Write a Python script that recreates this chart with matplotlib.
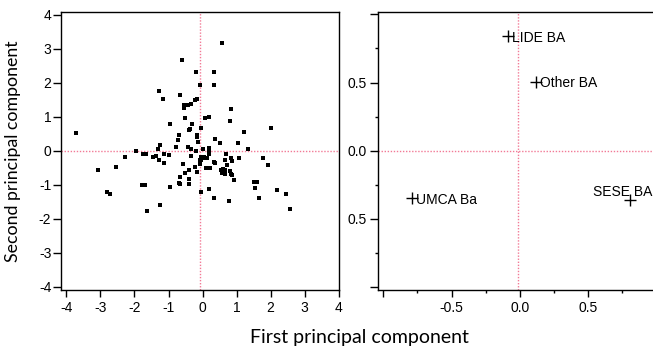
import matplotlib
matplotlib.use("Agg")
import matplotlib.pyplot as plt
from matplotlib.ticker import FixedLocator, FixedFormatter

plt.rcParams['axes.unicode_minus'] = False
plt.rcParams['font.family'] = ['Liberation Sans', 'DejaVu Sans']

# ---- left panel: scores ----
pc1 = [-3.73, -0.61, -0.19, -0.08, -1.27, -1.15, -0.65, -0.16, -0.21, -0.54,
       -0.54, -0.42, -0.34, -0.51, 0.08, 0.18, -0.96, -0.31, -0.36, -0.39,
       -0.69, -0.04, -0.15, -0.15, -0.73, -0.12, -1.24, -0.77, -1.32, -0.44,
       -0.34, -0.19, 0.00, 0.18, -1.97, -1.75, -1.65, -2.27, -1.46, -1.36,
       -1.13, -1.00, -1.27, 0.03, 0.13, -0.04, 0.57, 0.34, 0.34, 0.84,
       0.80, 2.00, 1.23, 0.38, 0.50, 1.04, 1.35, 0.18, 0.68, 0.84,
       1.07, 1.77, -0.07, -0.07, 0.34, 0.38, 0.65, 0.88, 1.92, 0.73,
       0.11, 0.23, 0.53, 0.60, 0.66, 0.57, 0.66, 0.80, 0.83, 0.88,
       0.93, 1.52, 1.60, 1.53, 2.19, 2.46, 2.58, 1.66, 0.20, 0.34,
       0.77, -0.05, -3.08, -2.82, -2.73, -2.54, -1.77, -1.68, -1.63, -1.24,
       -0.96, -1.12, -0.57, -0.51, -0.65, -0.69, -0.65, -0.39, -0.39, -0.39,
       -0.23, -0.15, -0.08, -0.34, 0.18, 0.07, -0.05]
pc2 = [0.51, 2.68, 2.32, 1.94, 1.76, 1.51, 1.63, 1.53, 1.50, 1.34,
       1.25, 1.36, 1.39, 0.97, 0.97, 1.00, 0.78, 0.78, 0.65, 0.61,
       0.46, 0.66, 0.48, 0.41, 0.31, 0.26, 0.16, 0.12, 0.04, 0.12,
       0.06, -0.01, 0.04, 0.00, 0.00, -0.08, -0.08, -0.19, -0.19, -0.16,
       -0.08, -0.12, -0.27, -0.18, -0.20, -0.27, 3.18, 2.32, 1.94, 1.24,
       0.89, 0.66, 0.54, 0.34, 0.23, 0.23, 0.04, 0.09, -0.08, -0.20,
       -0.20, -0.20, -0.28, -0.37, -0.32, -0.35, -0.27, -0.30, -0.43, -0.43,
       -0.50, -0.50, -0.55, -0.52, -0.56, -0.65, -0.67, -0.60, -0.67, -0.71,
       -0.86, -0.93, -0.93, -1.09, -1.16, -1.28, -1.71, -1.40, -1.13, -1.40,
       -1.48, -1.20, -0.55, -1.21, -1.28, -0.47, -1.01, -1.01, -1.78, -1.59,
       -1.05, -0.35, -0.39, -0.66, -0.77, -0.94, -0.97, -0.55, -0.84, -0.97,
       -0.47, -0.63, -0.39, -0.16, -0.08, -0.20, -0.18]
left_ref_x = -0.08
left_ref_y = 0.0
left_ticks = [-4, -3, -2, -1, 0, 1, 2, 3, 4]

# ---- right panel: loadings ----
load_names = ['LIDE BA', 'Other BA', 'UMCA Ba', 'SESE BA']
load_x = [-0.09, 0.12, -0.793, 0.806]
load_y = [0.843, 0.507, -0.35, -0.358]
right_ref_x = -0.015
right_ref_y = 0.0
right_major = [-1.0, -0.5, 0.0, 0.5, 1.0]
right_minor = [-0.75, -0.25, 0.25, 0.75]
right_xlabels = ['', '-0.5', '0.0', '0.5', '']
right_ylabels = ['', '0.5', '0.0', '0.5', '']

W, H = 653, 347
fig = plt.figure(figsize=(W / 100, H / 100), dpi=100)

def px_axes(l, r, t, b):
    return fig.add_axes([l / W, 1 - b / H, (r - l) / W, (b - t) / H])

pink = '#f27a96'

ax1 = px_axes(61, 339, 11.7, 290)
ax1.set_xlim(-4.16, 4.01)
ax1.set_ylim(-4.09, 4.09)
ax1.axvline(left_ref_x, color=pink, ls=(0, (1, 1.2)), lw=1.0, zorder=1)
ax1.axhline(left_ref_y, color=pink, ls=(0, (1, 1.2)), lw=1.0, zorder=1)
ax1.plot(pc1, pc2, 's', color='black', ms=3.2, mew=0, zorder=3)
ax1.set_xticks(left_ticks)
ax1.set_yticks(left_ticks)
ax1.tick_params(axis='x', direction='out', length=5, width=1, pad=3, labelsize=10)
ax1.tick_params(axis='y', direction='out', length=5.5, width=1, pad=1.5, labelsize=10)

ax2 = px_axes(378.3, 661.4, 11.7, 290)
ax2.set_xlim(-1.037, 1.037)
ax2.set_ylim(-1.022, 1.02)
ax2.axvline(right_ref_x, color=pink, ls=(0, (1, 1.2)), lw=1.0, zorder=1)
ax2.axhline(right_ref_y, color=pink, ls=(0, (1, 1.2)), lw=1.0, zorder=1)
ax2.plot(load_x, load_y, '+', color='black', ms=9, mew=1.0, zorder=3)
offsets = [(3.0, -1.5), (3.0, -1.0), (3.0, -1.5), (-26.5, 5.5)]
for name, x, y, off in zip(load_names, load_x, load_y, offsets):
    ax2.annotate(name, (x, y), xytext=off, textcoords='offset points',
                 ha='left', va='center', fontsize=10, color='black')
ax2.xaxis.set_major_locator(FixedLocator(right_major))
ax2.xaxis.set_major_formatter(FixedFormatter(right_xlabels))
ax2.xaxis.set_minor_locator(FixedLocator(right_minor))
ax2.yaxis.set_major_locator(FixedLocator(right_major))
ax2.yaxis.set_major_formatter(FixedFormatter(right_ylabels))
ax2.yaxis.set_minor_locator(FixedLocator(right_minor))
ax2.tick_params(axis='x', which='major', direction='out', length=5, width=1, pad=3, labelsize=10)
ax2.tick_params(axis='x', which='minor', direction='out', length=2.5, width=1)
ax2.tick_params(axis='y', which='major', direction='out', length=6, width=1, pad=2, labelsize=10)
ax2.tick_params(axis='y', which='minor', direction='out', length=2.5, width=1)

for ax in (ax1, ax2):
    for s in ax.spines.values():
        s.set_linewidth(1.0)

lab_font = ['Lato', 'DejaVu Sans']
fig.text(359 / W, 1 - 343 / H, 'First principal component', ha='center',
         va='baseline', fontsize=14, family=lab_font)
fig.text(13 / W, 1 - 151 / H, 'Second principal component', ha='center',
         va='center', rotation=90, fontsize=12.8, family=lab_font)

fig.savefig('out.png', dpi=100)
